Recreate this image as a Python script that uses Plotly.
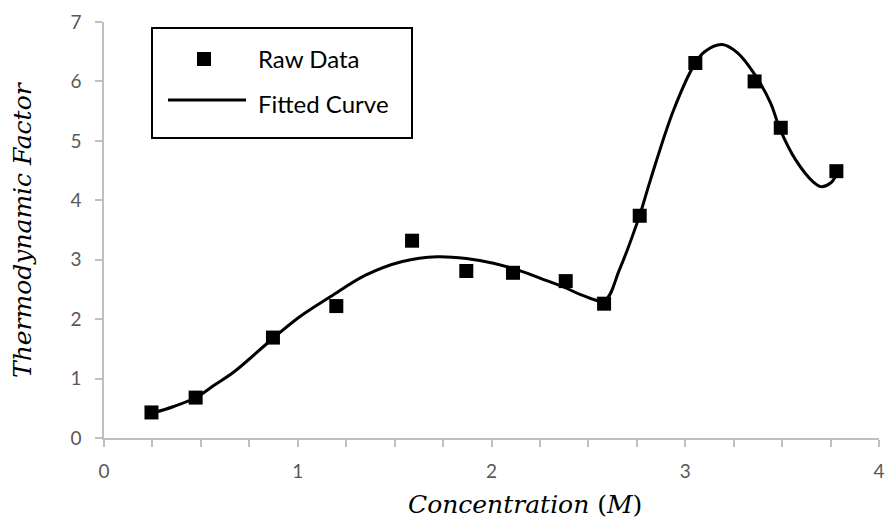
import plotly.graph_objects as go

# Measured thermodynamic factor vs. concentration
conc = [0.245, 0.473, 0.872, 1.199, 1.590, 1.870, 2.111, 2.383, 2.581, 2.765,
        3.052, 3.358, 3.493, 3.780]
thermo = [0.43, 0.68, 1.69, 2.22, 3.32, 2.81, 2.78, 2.64, 2.26, 3.74,
          6.31, 6.00, 5.22, 4.49]

# Fitted curve, sampled along its length
fit_conc = [0.25, 0.36, 0.48, 0.57, 0.67, 0.87, 1.01, 1.17, 1.35, 1.54, 1.72,
            1.87, 2.01, 2.16, 2.25, 2.38, 2.47, 2.585, 2.66, 2.765, 2.82, 2.94,
            3.05, 3.10, 3.19, 3.27, 3.36, 3.44, 3.49, 3.57, 3.66, 3.70, 3.75, 3.78]
fit_thermo = [0.42, 0.53, 0.69, 0.89, 1.11, 1.67, 2.04, 2.38, 2.74, 2.97, 3.05,
              3.02, 2.94, 2.80, 2.69, 2.53, 2.40, 2.32, 2.83, 3.75, 4.34, 5.52,
              6.30, 6.50, 6.62, 6.48, 6.11, 5.64, 5.19, 4.68, 4.31, 4.23, 4.29, 4.43]

series_names = ["Raw Data", "Fitted Curve"]
x_tick_labels = ["0", "1", "2", "3", "4"]
y_tick_labels = ["0", "1", "2", "3", "4", "5", "6", "7"]

# Canvas geometry (pixels)
WIDTH, HEIGHT = 888, 527
ML, MR, MT, MB = 104, 9, 22, 89
PW = WIDTH - ML - MR
PH = HEIGHT - MT - MB


def px(p):
    return (p - ML) / PW


def py(p):
    return 1 - (p - MT) / PH


AXIS_GREY = "#bfbfbf"
TICK_FONT = dict(family="Lato, 'Open Sans', sans-serif", size=19, color="#595959")
TITLE_FONT = dict(family="'DejaVu Serif', serif", size=25, color="black")
LEGEND_FONT = dict(family="Lato, 'Open Sans', sans-serif", size=24, color="black")

fig = go.Figure()

fig.add_trace(go.Scatter(
    x=fit_conc, y=fit_thermo, mode="lines", name=series_names[1],
    line=dict(color="black", width=3, shape="spline", smoothing=1.0),
    showlegend=False,
))
fig.add_trace(go.Scatter(
    x=conc, y=thermo, mode="markers", name=series_names[0],
    marker=dict(symbol="square", size=14, color="black"),
    showlegend=False,
))

fig.update_xaxes(
    range=[0, 4], tickvals=[0, 1, 2, 3, 4], ticktext=x_tick_labels,
    showgrid=False, zeroline=False, showline=True, linecolor=AXIS_GREY, linewidth=1.5,
    ticks="outside", ticklen=7, tickcolor=AXIS_GREY, tickwidth=1.5,
    minor=dict(dtick=0.25, ticks="outside", ticklen=7, tickcolor=AXIS_GREY,
               tickwidth=1.5, showgrid=False),
    tickfont=TICK_FONT, ticklabelstandoff=8, automargin=False,
)
fig.update_yaxes(
    range=[0, 7], tickvals=list(range(8)), ticktext=y_tick_labels,
    showgrid=False, zeroline=False, showline=True, linecolor=AXIS_GREY, linewidth=1.5,
    ticks="outside", ticklen=7, tickcolor=AXIS_GREY, tickwidth=1.5,
    tickfont=TICK_FONT, ticklabelstandoff=10, automargin=False,
)

# Legend box drawn by hand
shapes = [
    dict(type="rect", xref="paper", yref="paper",
         x0=px(152), x1=px(412), y0=py(138), y1=py(28),
         line=dict(color="black", width=2), fillcolor="white", layer="below"),
    dict(type="rect", xref="paper", yref="paper",
         x0=px(197), x1=px(211), y0=py(66), y1=py(52),
         line=dict(width=0), fillcolor="black"),
    dict(type="line", xref="paper", yref="paper",
         x0=px(168), x1=px(246), y0=py(100), y1=py(100),
         line=dict(color="black", width=3)),
]

annotations = [
    dict(text=series_names[0], xref="paper", yref="paper", x=px(256), y=py(58),
         xanchor="left", yanchor="middle", showarrow=False, font=LEGEND_FONT),
    dict(text=series_names[1], xref="paper", yref="paper", x=px(256), y=py(104),
         xanchor="left", yanchor="middle", showarrow=False, font=LEGEND_FONT),
    dict(text="<i>Concentration</i> (<i>M</i>)", xref="paper", yref="paper",
         x=px(525), y=py(504), xanchor="center", yanchor="middle",
         showarrow=False, font=TITLE_FONT),
    dict(text="<i>Thermodynamic Factor</i>", xref="paper", yref="paper",
         x=px(22), y=py(230), xanchor="center", yanchor="middle", textangle=-90,
         showarrow=False, font=TITLE_FONT),
]

fig.update_layout(
    width=WIDTH, height=HEIGHT,
    margin=dict(l=ML, r=MR, t=MT, b=MB),
    paper_bgcolor="white", plot_bgcolor="white",
    shapes=shapes, annotations=annotations, showlegend=False,
)

fig.write_html("out.html")
